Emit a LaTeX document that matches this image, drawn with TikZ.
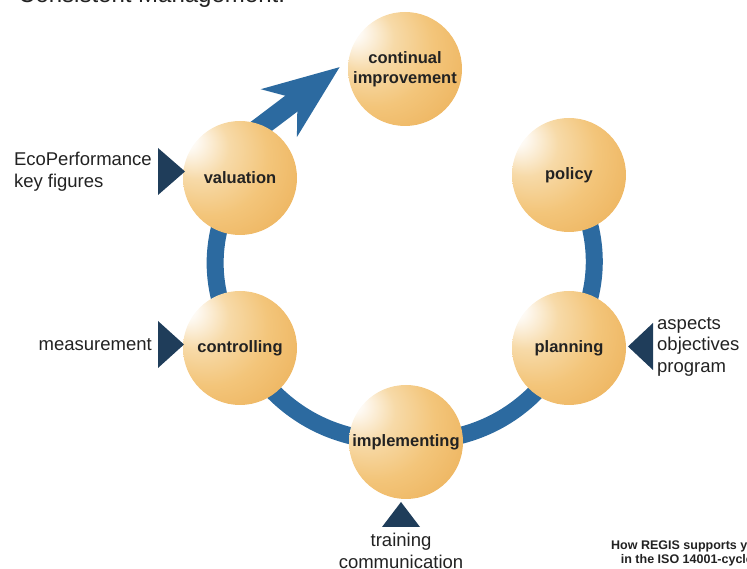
\documentclass[tikz,border=0pt]{standalone}
\usepackage{fontspec}
\setmainfont{Liberation Sans}
\usetikzlibrary{arrows.meta,backgrounds,positioning}
\definecolor{ringblue}{RGB}{44,106,160}
\definecolor{trinavy}{RGB}{31,61,90}
\definecolor{txtgray}{RGB}{34,34,34}
\definecolor{sphA}{RGB}{254,250,244}
\definecolor{sphB}{RGB}{247,218,168}
\definecolor{sphC}{RGB}{243,197,122}
\definecolor{sphD}{RGB}{236,176,88}
\definecolor{sphE}{RGB}{216,136,40}
\pgfdeclareradialshading{sphere}{\pgfpoint{-25bp}{18bp}}{color(0bp)=(sphA); color(4bp)=(sphA); color(14bp)=(sphB); color(26bp)=(sphC); color(42bp)=(sphD); color(53bp)=(sphE); color(56bp)=(sphE)}
\tikzset{sph/.style={circle,minimum size=114pt,inner sep=0pt,shade,shading=sphere,align=center,text=txtgray,font=\fontsize{16.5}{20}\selectfont\bfseries}}
\tikzset{ringline/.style={line width=17pt,draw=ringblue}}
\tikzset{bigarrow/.style={line width=20pt,draw=ringblue,fill=ringblue,-{Stealth[length=75pt,width=58pt,inset=22pt]}}}
\tikzset{tri/.style={fill=trinavy}}
\tikzset{lbl/.style={inner sep=0pt,text=txtgray,align=left,font=\fontsize{18.5}{21.5}\selectfont}}

\begin{document}
\begin{tikzpicture}[x=1pt,y=1pt]
\useasboundingbox (0,0) rectangle (747,569);
\node[anchor=base west,inner sep=0pt,text=txtgray,font=\fontsize{24}{28}\selectfont] (heading) at (18,566) {Consistent Management.};
% the cycle
\node[sph] (improve) at (405,500) {continual\\improvement};
\node[sph] (policy) at (569,394) {policy};
\node[sph] (planning) at (569,221) {planning};
\node[sph] (implement) at (406,127) {implementing};
\node[sph] (control) at (240,221) {controlling};
\node[sph] (valuation) at (240,391) {valuation};
\begin{pgfonlayer}{background}
\draw[ringline] (policy.center) to[bend left=30] (planning.center) to[bend left=30] (implement.center) to[bend left=30] (control.center) to[bend left=30] (valuation.center);
\draw[bigarrow] ([shift={(-2,34)}]valuation.center) -- ([shift={(-8,2)}]improve.west);
\end{pgfonlayer}
% inputs
\coordinate (tv) at (158,397.5);
\coordinate (tc) at (158,224.5);
\coordinate (tp) at (653,222.5);
\coordinate (ti) at (401,42);
\fill[tri] (tv) ++(0,23.5) -- ++(27,-23.5) -- ++(-27,-23.5) -- cycle;
\fill[tri] (tc) ++(0,23.5) -- ++(26,-23.5) -- ++(-26,-23.5) -- cycle;
\fill[tri] (tp) ++(0,23.5) -- ++(-25,-23.5) -- ++(25,-23.5) -- cycle;
\fill[tri] (ti) ++(-19,0) -- ++(19,25) -- ++(19,-25) -- cycle;
\node[lbl,left=6pt of tv] (ecoperf) {EcoPerformance\\key figures};
\node[lbl,left=6pt of tc] (measure) {measurement};
\node[lbl,right=4pt of tp] (aspects) {aspects\\objectives\\program};
\node[lbl,align=center,below=6pt of ti] (training) {training\\communication};
\node[anchor=north west,inner sep=0pt,align=center,text=txtgray,font=\fontsize{12.5}{14}\selectfont\bfseries] (caption) at (611,28) {How REGIS supports you\\in the ISO 14001-cycle};
\end{tikzpicture}
\end{document}
